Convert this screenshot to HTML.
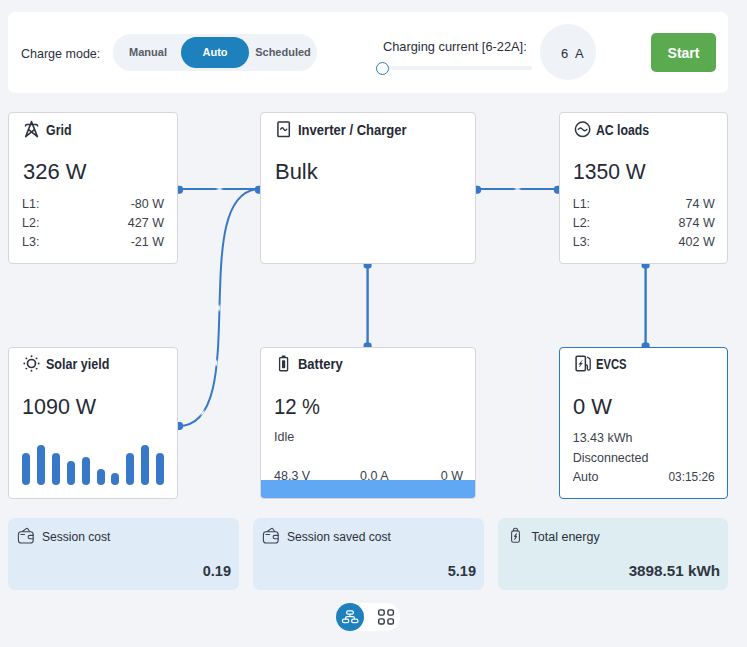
<!DOCTYPE html>
<html><head><meta charset="utf-8">
<style>
*{box-sizing:border-box;margin:0;padding:0}
html,body{width:747px;height:647px;overflow:hidden}
body{background:#f2f4f8;font-family:"Liberation Sans",sans-serif;color:#2b2f3a;position:relative;font-size:12.5px}
.abs{position:absolute}
.topbar{left:8px;top:12px;width:720px;height:81px;background:#fff;border-radius:7px}
.lbl{white-space:nowrap;line-height:1}
.seg{left:113px;top:34px;width:204px;height:36.5px;border-radius:18px;background:#eff2f6}
.segbtn{height:31px;top:37px;line-height:31px;text-align:center;font-weight:bold;font-size:11px;color:#575c68;border-radius:15.5px}
.segbtn.on{background:#1e80bc;color:#fff}
.track{left:383px;top:66px;width:149px;height:4px;border-radius:2px;background:#eff2f6}
.knob{left:376px;top:61.6px;width:13px;height:13px;border-radius:50%;background:#fff;border:1.8px solid #2a7ab8}
.circ{left:540px;top:24px;width:56px;height:56px;border-radius:50%;background:#eff2f6}
.start{left:651px;top:33px;width:65px;height:39px;border-radius:5px;background:#5aaa50;color:#fff;font-weight:bold;font-size:14px;line-height:41px;text-align:center}
.card{background:#fff;border:1px solid #d6d6d6;border-radius:4px}
.title{font-weight:bold;font-size:14px;white-space:nowrap;line-height:1;color:#252a36}
.val{font-size:22.2px;white-space:nowrap;line-height:1;color:#252a36;transform:scaleX(0.99);transform-origin:0 50%}
.row{font-size:12.5px;white-space:nowrap;line-height:1;color:#3a3f4b}
.r{text-align:right}
.tile{top:518px;height:72px;border-radius:7px}
.tl{font-size:12.5px;line-height:1;white-space:nowrap;color:#2b2f3a}
.tv{font-size:14.5px;font-weight:bold;line-height:1;white-space:nowrap;text-align:right;color:#2f3542}
svg{position:absolute;overflow:visible}
</style></head><body>

<div class="abs topbar"></div>
<div class="abs lbl" style="left:21.4px;top:46.5px;font-size:13.5px"><span style="display:inline-block;transform:scaleX(0.927);transform-origin:0 50%">Charge mode:</span></div>
<div class="abs seg"></div>
<div class="abs segbtn" style="left:116px;width:64px">Manual</div>
<div class="abs segbtn on" style="left:181px;width:68px">Auto</div>
<div class="abs segbtn" style="left:250px;width:66px">Scheduled</div>
<div class="abs lbl" style="left:383px;top:40.7px;font-size:12.8px">Charging current [6-22A]:</div>
<div class="abs track"></div>
<div class="abs knob"></div>
<div class="abs circ"></div>
<div class="abs lbl" style="left:561px;top:47px;font-size:13px">6</div>
<div class="abs lbl" style="left:575px;top:47px;font-size:13px">A</div>
<div class="abs start">Start</div>

<!-- edges -->
<svg class="abs" style="left:0;top:0" width="747" height="647" fill="none" stroke="#3878c8" stroke-width="2">
<defs><radialGradient id="gl"><stop offset="0" stop-color="#fff" stop-opacity="1"/><stop offset="0.5" stop-color="#fff" stop-opacity="0.7"/><stop offset="1" stop-color="#fff" stop-opacity="0"/></radialGradient></defs>
<path d="M178,189 H260"/>
<path d="M178.5,426 C254.5,426 184.5,189 260.5,189"/>
<path d="M476,189 H559"/>
<path d="M367.6,264 V347" stroke-width="2.4"/>
<path d="M645.6,264 V347" stroke-width="2.4"/>
<g fill="#3878c8" stroke="none">
<path d="M177,185.7 h2.7 a3.4,3.4 0 0 1 3.4,3.4 v1.2 a3.4,3.4 0 0 1 -3.4,3.4 h-2.7z"/>
<path d="M261,185.7 h-2.7 a3.4,3.4 0 0 0 -3.4,3.4 v1.2 a3.4,3.4 0 0 0 3.4,3.4 h2.7z"/>
<path d="M177,422 h2.7 a3.4,3.4 0 0 1 3.4,3.4 v1.2 a3.4,3.4 0 0 1 -3.4,3.4 h-2.7z"/>
<path d="M475,185.7 h2.7 a3.4,3.4 0 0 1 3.4,3.4 v1.2 a3.4,3.4 0 0 1 -3.4,3.4 h-2.7z"/>
<path d="M560,185.7 h-2.7 a3.4,3.4 0 0 0 -3.4,3.4 v1.2 a3.4,3.4 0 0 0 3.4,3.4 h2.7z"/>
<path d="M363.6,263 v2.8 a2.7,2.7 0 0 0 2.7,2.7 h2.6 a2.7,2.7 0 0 0 2.7,-2.7 v-2.8z"/>
<path d="M363.6,348 v-2.8 a2.7,2.7 0 0 1 2.7,-2.7 h2.6 a2.7,2.7 0 0 1 2.7,2.7 v2.8z"/>
<path d="M641.6,263 v2.8 a2.7,2.7 0 0 0 2.7,2.7 h2.6 a2.7,2.7 0 0 0 2.7,-2.7 v-2.8z"/>
<path d="M641.6,348 v-2.8 a2.7,2.7 0 0 1 2.7,-2.7 h2.6 a2.7,2.7 0 0 1 2.7,2.7 v2.8z"/>
</g>
<g stroke="none" fill="url(#gl)" opacity="0.45"><circle cx="219.5" cy="189" r="4.5"/><circle cx="517.5" cy="189" r="4.5"/><circle cx="219" cy="308" r="4.5"/><circle cx="216.4" cy="363" r="4.5"/><circle cx="202.6" cy="412.8" r="4.5"/></g>
<g stroke="none" fill="url(#gl)">
<ellipse cx="219.5" cy="189" rx="3.5" ry="0.9"/>
<ellipse cx="517.5" cy="189" rx="3.5" ry="0.9"/>
<ellipse cx="219" cy="308" rx="1.3" ry="3.5"/>
<ellipse cx="216.4" cy="363" rx="1.3" ry="3.5" transform="rotate(6 216.4 363)"/>
<ellipse cx="202.6" cy="412.8" rx="1.3" ry="3.2" transform="rotate(40 202.6 412.8)"/>
</g>
</svg>

<!-- Grid -->
<div class="abs card" style="left:8px;top:112px;width:170px;height:152px"></div>
<div class="abs title" style="left:46px;top:123px"><span style="display:inline-block;transform:scaleX(0.888);transform-origin:0 50%">Grid</span></div>
<div class="abs val" style="left:22.6px;top:161.3px">326 W</div>
<div class="abs row" style="left:22px;top:198px">L1:</div><div class="abs row r" style="left:100px;width:64px;top:198px">-80 W</div>
<div class="abs row" style="left:22px;top:217px">L2:</div><div class="abs row r" style="left:100px;width:64px;top:217px">427 W</div>
<div class="abs row" style="left:22px;top:236px">L3:</div><div class="abs row r" style="left:100px;width:64px;top:236px">-21 W</div>

<!-- Inverter -->
<div class="abs card" style="left:260px;top:112px;width:216px;height:152px"></div>
<div class="abs title" style="left:298px;top:123px"><span style="display:inline-block;transform:scaleX(0.931);transform-origin:0 50%">Inverter / Charger</span></div>
<div class="abs val" style="left:275px;top:161.3px">Bulk</div>

<!-- AC loads -->
<div class="abs card" style="left:559px;top:112px;width:169px;height:152px"></div>
<div class="abs title" style="left:596px;top:123px"><span style="display:inline-block;transform:scaleX(0.876);transform-origin:0 50%">AC loads</span></div>
<div class="abs val" style="left:572.7px;top:161.3px"><span style="display:inline-block;transform:scaleX(0.96);transform-origin:0 50%">1350 W</span></div>
<div class="abs row" style="left:572.7px;top:198px">L1:</div><div class="abs row r" style="left:650.7px;width:64px;top:198px">74 W</div>
<div class="abs row" style="left:572.7px;top:217px">L2:</div><div class="abs row r" style="left:650.7px;width:64px;top:217px">874 W</div>
<div class="abs row" style="left:572.7px;top:236px">L3:</div><div class="abs row r" style="left:650.7px;width:64px;top:236px">402 W</div>

<!-- Solar -->
<div class="abs card" style="left:8px;top:347px;width:170px;height:152px"></div>
<div class="abs title" style="left:46px;top:357px"><span style="display:inline-block;transform:scaleX(0.894);transform-origin:0 50%">Solar yield</span></div>
<div class="abs val" style="left:22px;top:396.3px"><span style="display:inline-block;transform:scaleX(0.98);transform-origin:0 50%">1090 W</span></div>

<div class="abs" style="left:22.0px;top:453.1px;width:8px;height:31.5px;border-radius:4px;background:#3878c8"></div><div class="abs" style="left:36.9px;top:445.1px;width:8px;height:39.5px;border-radius:4px;background:#3878c8"></div><div class="abs" style="left:51.8px;top:453.1px;width:8px;height:31.5px;border-radius:4px;background:#3878c8"></div><div class="abs" style="left:66.7px;top:461.1px;width:8px;height:23.5px;border-radius:4px;background:#3878c8"></div><div class="abs" style="left:81.6px;top:457.1px;width:8px;height:27.5px;border-radius:4px;background:#3878c8"></div><div class="abs" style="left:96.5px;top:469.1px;width:8px;height:15.5px;border-radius:4px;background:#3878c8"></div><div class="abs" style="left:111.4px;top:473.1px;width:8px;height:11.5px;border-radius:4px;background:#3878c8"></div><div class="abs" style="left:126.3px;top:453.1px;width:8px;height:31.5px;border-radius:4px;background:#3878c8"></div><div class="abs" style="left:141.2px;top:445.1px;width:8px;height:39.5px;border-radius:4px;background:#3878c8"></div><div class="abs" style="left:156.1px;top:453.1px;width:8px;height:31.5px;border-radius:4px;background:#3878c8"></div>

<!-- Battery -->
<div class="abs card" style="left:260px;top:347px;width:216px;height:152px;overflow:hidden"><div class="abs row" style="left:13px;top:122.4px">48.3 V</div><div class="abs row" style="left:99px;top:122.4px">0.0 A</div><div class="abs row r" style="left:140px;width:62px;top:122.4px">0 W</div><div class="abs" style="left:0;right:0;bottom:0;height:18px;background:#61a8f4"></div></div>
<div class="abs title" style="left:298px;top:357px"><span style="display:inline-block;transform:scaleX(0.926);transform-origin:0 50%">Battery</span></div>
<div class="abs val" style="left:274px;top:396.3px"><span style="display:inline-block;transform:scaleX(0.93);transform-origin:0 50%">12</span></div>
<div class="abs val" style="left:301.8px;top:396.3px"><span style="display:inline-block;transform:scaleX(0.917);transform-origin:0 50%">%</span></div>
<div class="abs row" style="left:274px;top:431px">Idle</div>

<!-- EVCS -->
<div class="abs card" style="left:559px;top:347px;width:169px;height:152px;border-color:#2a78c0"></div>
<div class="abs title" style="left:596px;top:357px"><span style="display:inline-block;transform:scaleX(0.803);transform-origin:0 50%">EVCS</span></div>
<div class="abs val" style="left:572.7px;top:396.3px">0 W</div>
<div class="abs row" style="left:572.7px;top:432px">13.43 kWh</div>
<div class="abs row" style="left:572.7px;top:452px">Disconnected</div>
<div class="abs row" style="left:572.7px;top:471px">Auto</div><div class="abs row r" style="left:650.7px;width:64px;top:471px"><span style="display:inline-block;transform:scaleX(0.95);transform-origin:100% 50%">03:15:26</span></div>

<!-- tiles -->
<div class="abs tile" style="left:8px;width:231px;background:#dfebf7"></div>
<div class="abs tile" style="left:253px;width:231px;background:#dfebf7"></div>
<div class="abs tile" style="left:498px;width:230px;background:#ddedf1"></div>
<div class="abs tl" style="left:42px;top:531px"><span style="display:inline-block;transform:scaleX(0.965);transform-origin:0 50%">Session cost</span></div>
<div class="abs tl" style="left:287px;top:531px"><span style="display:inline-block;transform:scaleX(0.965);transform-origin:0 50%">Session saved cost</span></div>
<div class="abs tl" style="left:531.6px;top:531px">Total energy</div>
<div class="abs tv" style="left:130px;width:101px;top:563.5px">0.19</div>
<div class="abs tv" style="left:375px;width:101px;top:563.5px">5.19</div>
<div class="abs tv" style="left:590px;width:130px;top:563.5px"><span style="display:inline-block;transform:scaleX(1.05);transform-origin:100% 50%">3898.51 kWh</span></div>

<!-- bottom toggle -->
<div class="abs" style="left:335.8px;top:602.8px;width:64.4px;height:28.4px;border-radius:14.2px;background:#fff"></div>
<div class="abs" style="left:335.8px;top:602.8px;width:28.4px;height:28.4px;border-radius:14.2px;background:#1e80bc"></div>


<!-- icons -->
<svg class="abs" style="left:0;top:0" width="747" height="647" fill="none" stroke="#2f3441" stroke-width="1.5" stroke-linecap="round" stroke-linejoin="round">
<!-- grid pylon -->
<path stroke-width="1.55" d="M31.5,121.6 L25.7,136.6 M31.5,121.6 L37.4,136.6 M25.7,136.6 L34.7,129.3 M37.4,136.6 L28.4,129.3 M25.5,126 q0,-1.5 1.5,-1.5 H36.1 q1.5,0 1.5,1.5"/>
<!-- inverter -->
<rect x="277.9" y="122.1" width="11.4" height="14.5" rx="0.9"/>
<path d="M280.7,129.2 q1.5,-2.8 3,0 t3,0" stroke-width="1.4"/>
<!-- ac loads -->
<circle cx="582.6" cy="129.3" r="7.2"/>
<path d="M578.3,129.4 q2.1,-2.8 4.3,0 t4.3,0" stroke-width="1.35"/>
<!-- sun -->
<circle cx="31.5" cy="363.5" r="4" stroke-width="1.7"/>
<g fill="#2f3441" stroke="none">
<circle cx="31.5" cy="356.3" r="0.95"/><circle cx="31.5" cy="370.7" r="0.95"/>
<circle cx="24.3" cy="363.5" r="0.95"/><circle cx="38.7" cy="363.5" r="0.95"/>
<circle cx="26.4" cy="358.4" r="0.95"/><circle cx="36.6" cy="358.4" r="0.95"/>
<circle cx="26.4" cy="368.6" r="0.95"/><circle cx="36.6" cy="368.6" r="0.95"/>
</g>
<!-- battery -->
<rect x="279.6" y="357.6" width="8" height="13.1" rx="0.8" stroke-width="1.35"/>
<path d="M282.3,356.2 h2.6" stroke-width="1.6"/>
<rect x="282" y="360.3" width="3.2" height="7.9" rx="0.6" fill="#2f3441" stroke="none"/>
<!-- evcs -->
<rect x="576.1" y="356.15" width="9.3" height="14.5" rx="1.2"/>
<path d="M582.1,360.6 L578.9,364.3 h1.8 L579.3,367 L582.5,363.1 h-1.8 z" fill="#2f3441" stroke="#2f3441" stroke-width="0.4"/>
<path d="M585.6,365 h0.8 q1,0 1,1 v2.7 a1.4,1.4 0 0 0 2.8,0 V359.9 q0,-0.8 -0.6,-1.3 L587.6,357.2" stroke-width="1.3"/>
</svg>
<svg class="abs" style="left:0;top:0" width="747" height="647" fill="none" stroke="#3d4352" stroke-width="1.1" stroke-linecap="round" stroke-linejoin="round">
<!-- wallets -->
<g>
<rect x="18.4" y="531.7" width="14.8" height="11.3" rx="2.8"/>
<path d="M22.3,531.5 L26.6,528.4 q0.7,-0.4 1.2,0.3 L29.6,531.5"/>
<path d="M33.2,535.4 h-3.4 a1.7,1.7 0 0 0 0,3.4 h3.4"/>
<path d="M20.9,534.5 h3.6"/>
</g>
<g transform="translate(245,0)">
<rect x="18.4" y="531.7" width="14.8" height="11.3" rx="2.8"/>
<path d="M22.3,531.5 L26.6,528.4 q0.7,-0.4 1.2,0.3 L29.6,531.5"/>
<path d="M33.2,535.4 h-3.4 a1.7,1.7 0 0 0 0,3.4 h3.4"/>
<path d="M20.9,534.5 h3.6"/>
</g>
<!-- battery charging -->
<rect x="511.6" y="530.9" width="7.8" height="11.3" rx="1.8"/>
<path d="M513.5,530.7 v-0.9 a1.6,1.6 0 0 1 1.6,-1.6 h0.8 a1.6,1.6 0 0 1 1.6,1.6 v0.9"/>
<path d="M516.4,533.9 L514.6,536.4 h1.9 L514.7,539.2" stroke-width="1.15"/>
</svg>
<svg class="abs" style="left:0;top:0" width="747" height="647" fill="none" stroke-linecap="round" stroke-linejoin="round">
<g stroke="#fff" stroke-width="1.2">
<rect x="346.6" y="610.9" width="6.8" height="3.2" rx="1.6"/>
<rect x="342.4" y="619.2" width="6.4" height="3.5" rx="1.7"/>
<rect x="351.6" y="619.2" width="6.4" height="3.5" rx="1.7"/>
<path d="M350,614.3 V616.6 M345.6,619 v-1 q0,-1.4 1.4,-1.4 h6 q1.4,0 1.4,1.4 v1"/>
</g>
<g stroke="#2f3441" stroke-width="1.4">
<rect x="378.7" y="609.9" width="5.5" height="5.2" rx="1.6"/>
<rect x="387.9" y="609.9" width="5.5" height="5.2" rx="1.6"/>
<rect x="378.7" y="618.9" width="5.5" height="5.1" rx="1.6"/>
<rect x="387.9" y="618.9" width="5.5" height="5.1" rx="1.6"/>
</g>
</svg>

</body></html>
